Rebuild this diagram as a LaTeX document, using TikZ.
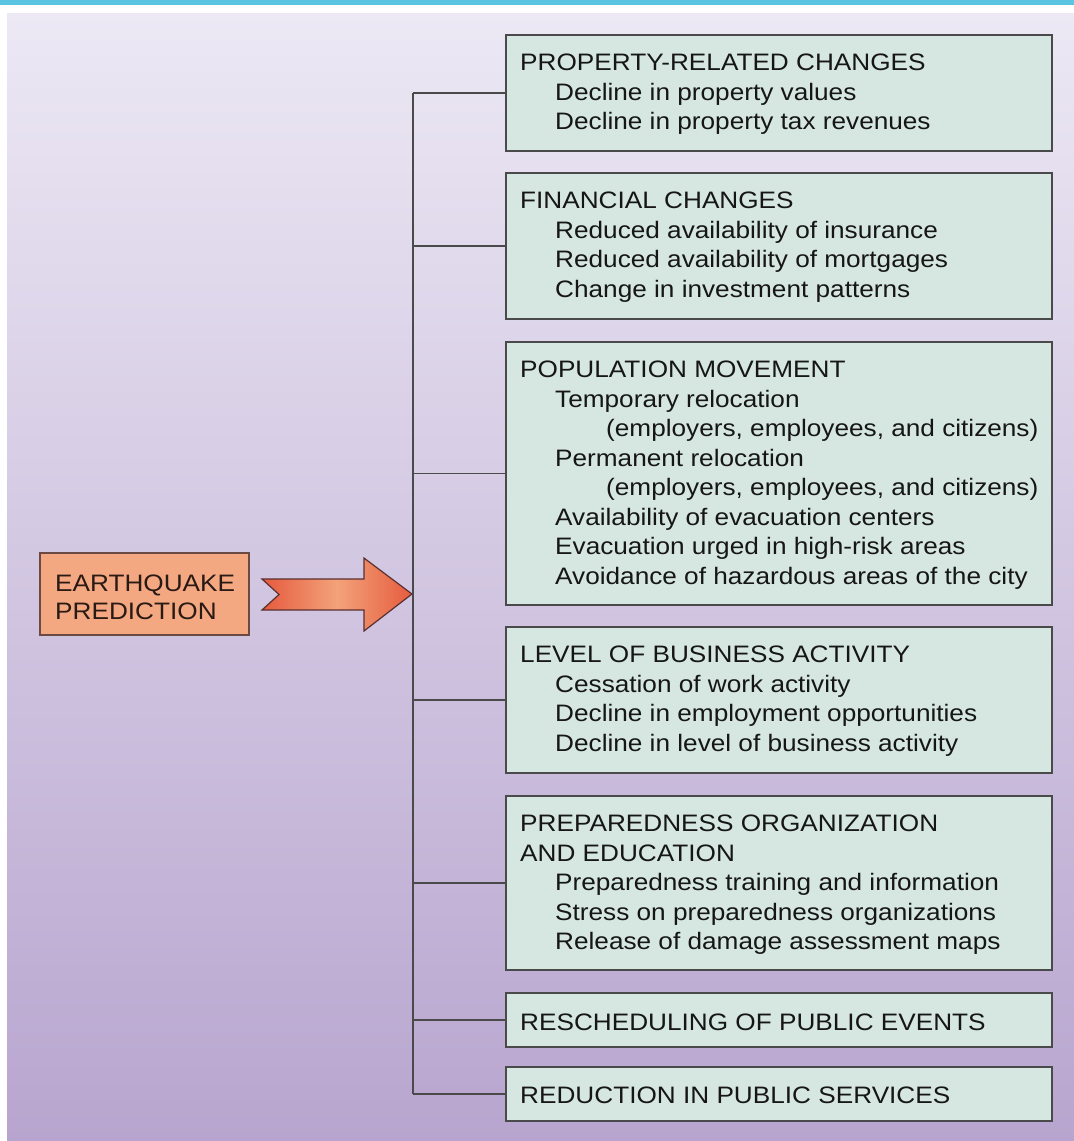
\documentclass[tikz,border=0pt]{standalone}
\usepackage{fontspec}
\setmainfont{Liberation Sans}[FakeStretch=1.1]
\usetikzlibrary{calc}
\definecolor{topbar}{HTML}{5BC4E0}
\definecolor{bgtop}{HTML}{ECE8F4}
\definecolor{bgbot}{HTML}{B8A5CF}
\definecolor{boxfill}{HTML}{D6E7E1}
\definecolor{boxline}{HTML}{4A4A4A}
\definecolor{eqfill}{HTML}{F4A882}
\definecolor{eqline}{HTML}{6A4A42}
\definecolor{txtcol}{HTML}{161616}
\definecolor{eqtxt}{HTML}{2A1A14}
\definecolor{arrA}{HTML}{E65A3E}
\definecolor{arrB}{HTML}{F3A27A}
\definecolor{arrC}{HTML}{E55C3E}
\definecolor{arrline}{HTML}{5A3030}
\newcommand\indA{\hspace*{35pt}}
\newcommand\indB{\hspace*{86pt}}
\begin{document}
\begin{tikzpicture}[x=1pt,y=-1pt,
  catbox/.style={draw=boxline,fill=boxfill,line width=1.6pt,inner sep=0pt,outer sep=0pt,
    minimum width=546pt,anchor=north west},
  txt/.style={anchor=north west,inner sep=0pt,align=left,text=txtcol,
    font=\fontsize{23.8}{29.5}\selectfont},
  conn/.style={draw=boxline,line width=1.6pt}]
\useasboundingbox (0,0) rectangle (1074,1141);
\fill[white] (0,0) rectangle (1074,1141);
\shade[top color=bgtop,bottom color=bgbot] (7,13) rectangle (1074,1141);
\fill[topbar] (0,0) rectangle (1074,5);

% category boxes
\node[catbox,minimum height=116pt] (b1) at (506,35) {};
\node[catbox,minimum height=146pt] (b2) at (506,173) {};
\node[catbox,minimum height=263pt] (b3) at (506,342) {};
\node[catbox,minimum height=146pt] (b4) at (506,627) {};
\node[catbox,minimum height=174pt] (b5) at (506,796) {};
\node[catbox,minimum height=54pt] (b6) at (506,993) {};
\node[catbox,minimum height=54pt] (b7) at (506,1067) {};

\node[txt] (t1) at ($(b1.north west)+(14,17.5)$) {\rule{0pt}{18pt}PROPERTY-RELATED CHANGES\\
\indA Decline in property values\\
\indA Decline in property tax revenues};
\node[txt] (t2) at ($(b2.north west)+(14,17.5)$) {\rule{0pt}{18pt}FINANCIAL CHANGES\\
\indA Reduced availability of insurance\\
\indA Reduced availability of mortgages\\
\indA Change in investment patterns};
\node[txt] (t3) at ($(b3.north west)+(14,17.5)$) {\rule{0pt}{18pt}POPULATION MOVEMENT\\
\indA Temporary relocation\\
\indB (employers, employees, and citizens)\\
\indA Permanent relocation\\
\indB (employers, employees, and citizens)\\
\indA Availability of evacuation centers\\
\indA Evacuation urged in high-risk areas\\
\indA Avoidance of hazardous areas of the city};
\node[txt] (t4) at ($(b4.north west)+(14,17.5)$) {\rule{0pt}{18pt}LEVEL OF BUSINESS ACTIVITY\\
\indA Cessation of work activity\\
\indA Decline in employment opportunities\\
\indA Decline in level of business activity};
\node[txt] (t5) at ($(b5.north west)+(14,17.5)$) {\rule{0pt}{18pt}PREPAREDNESS ORGANIZATION\\
AND EDUCATION\\
\indA Preparedness training and information\\
\indA Stress on preparedness organizations\\
\indA Release of damage assessment maps};
\node[txt] (t6) at ($(b6.north west)+(14,19)$) {\rule{0pt}{18pt}RESCHEDULING OF PUBLIC EVENTS};
\node[txt] (t7) at ($(b7.north west)+(14,18)$) {\rule{0pt}{18pt}REDUCTION IN PUBLIC SERVICES};

% source box
\node[draw=eqline,fill=eqfill,line width=1.6pt,inner sep=0pt,outer sep=0pt,
  minimum width=209pt,minimum height=82pt,anchor=north west] (eq) at (40,553) {};
\node[txt,text=eqtxt,font=\fontsize{23.8}{28.5}\selectfont] (teq) at ($(eq.north west)+(15,20)$)
  {\rule{0pt}{18pt}EARTHQUAKE\\PREDICTION};

% big arrow
\coordinate (tip) at (412,594);
\coordinate (bus) at (413,594);
\shade[left color=arrA,right color=arrC,middle color=arrB,draw=arrline,line width=1.2pt,line join=miter]
  (262,579) -- (364,579) -- (364,558) -- (tip) -- (364,631) -- (364,610) -- (262,610) -- (279,594.5) -- cycle;

% connectors
\draw[conn] (b1.west -| bus) -- (b7.west -| bus);
\foreach \b in {b1,b2,b3,b4,b5,b6,b7}
  \draw[conn] (\b.west -| bus) -- (\b.west);
\end{tikzpicture}
\end{document}
